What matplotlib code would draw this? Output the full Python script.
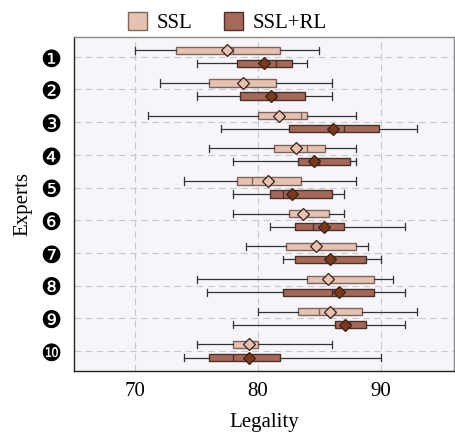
import matplotlib
matplotlib.use("Agg")
import matplotlib.pyplot as plt
from matplotlib.patches import Patch
import numpy as np

plt.rcParams["font.family"] = ["Liberation Serif", "DejaVu Sans"]

experts = ["❶", "❷", "❸", "❹", "❺", "❻", "❼", "❽", "❾", "❿"]
series_names = ["SSL", "SSL+RL"]

# whisker low, q1, median, q3, whisker high, mean
ssl_low = [70.0, 72.0, 71.0, 76.0, 74.0, 78.0, 79.0, 75.0, 80.0, 75.0]
ssl_q1 = [73.3, 76.0, 80.0, 81.3, 78.3, 82.5, 82.3, 84.0, 83.3, 78.0]
ssl_med = [78.0, 78.8, 83.5, 84.0, 79.5, 83.8, 84.7, 85.7, 85.0, 79.3]
ssl_q3 = [81.8, 81.5, 84.0, 85.5, 83.5, 85.8, 88.0, 89.5, 88.5, 80.0]
ssl_high = [85.0, 86.0, 88.0, 88.0, 88.0, 87.0, 89.0, 91.0, 93.0, 86.0]
ssl_mean = [77.5, 78.8, 81.7, 83.1, 80.8, 83.7, 84.7, 85.7, 85.9, 79.3]

rl_low = [75.0, 75.0, 77.0, 78.0, 78.0, 81.0, 82.0, 75.8, 78.0, 74.0]
rl_q1 = [78.3, 78.5, 82.5, 83.3, 81.0, 83.0, 83.0, 82.0, 86.3, 76.0]
rl_med = [81.5, 81.5, 87.0, 85.0, 82.0, 84.5, 85.6, 86.0, 87.5, 78.0]
rl_q3 = [82.8, 83.8, 89.9, 87.5, 86.0, 87.0, 88.8, 89.5, 88.8, 81.8]
rl_high = [84.0, 86.0, 93.0, 88.0, 87.0, 92.0, 90.0, 92.0, 92.0, 90.0]
rl_mean = [80.5, 81.1, 86.1, 84.6, 82.8, 85.4, 85.9, 86.6, 87.1, 79.3]

fill_colors = ["#e6c2b2", "#a5695a"]
edge_colors = ["#7d6560", "#4a3028"]
mean_colors = ["#e6c2b2", "#7a3a1e"]


def make_stats(low, q1, med, q3, high, mean):
    stats = []
    for i in range(len(low)):
        stats.append({"whislo": low[i], "q1": q1[i], "med": med[i], "q3": q3[i],
                      "whishi": high[i], "mean": mean[i], "fliers": []})
    return stats


all_stats = [make_stats(ssl_low, ssl_q1, ssl_med, ssl_q3, ssl_high, ssl_mean),
             make_stats(rl_low, rl_q1, rl_med, rl_q3, rl_high, rl_mean)]

fig = plt.figure(figsize=(4.55, 4.32), dpi=100)
ax = fig.add_axes([0.163, 0.142, 0.835, 0.772])
ax.set_facecolor("#f7f5f9")

base = np.arange(1, len(experts) + 1)
offsets = [-0.2, 0.2]
for k in range(2):
    ax.bxp(all_stats[k], positions=base + offsets[k], orientation="horizontal",
           widths=0.22, patch_artist=True, showmeans=True, capwidths=0.22,
           boxprops=dict(facecolor=fill_colors[k], edgecolor=edge_colors[k], linewidth=1.0),
           medianprops=dict(color=edge_colors[k], linewidth=1.0),
           whiskerprops=dict(color="#333333", linewidth=0.9),
           capprops=dict(color="#333333", linewidth=0.9),
           meanprops=dict(marker="D", markerfacecolor=mean_colors[k],
                          markeredgecolor="#3a2018", markersize=6.5, markeredgewidth=0.9),
           zorder=3)

ax.set_xlim(65, 96)
ax.set_ylim(10.6, 0.4)
ax.set_xticks([70, 80, 90])
ax.set_yticks(base)
ax.set_yticklabels(experts, fontsize=17, family=["DejaVu Sans"])
ax.tick_params(axis="x", labelsize=15, length=0, pad=8)
ax.tick_params(axis="y", length=0, pad=9)
ax.grid(True, linestyle=(0, (6, 4)), color="#c8c8c8", linewidth=0.8, zorder=0)
ax.set_axisbelow(True)

for side in ["left", "bottom"]:
    ax.spines[side].set_color("#222222")
    ax.spines[side].set_linewidth(1.0)
for side in ["top", "right"]:
    ax.spines[side].set_color("#888888")
    ax.spines[side].set_linewidth(1.0)

ax.set_xlabel("Legality", fontsize=15, labelpad=9)
ax.set_ylabel("Experts", fontsize=15, labelpad=6)

handles = [Patch(facecolor=fill_colors[k], edgecolor=edge_colors[k], label=series_names[k])
           for k in range(2)]
fig.legend(handles=handles, loc="upper center", bbox_to_anchor=(0.5, 1.015), ncol=2,
           frameon=False, fontsize=15, handlelength=0.9, handleheight=0.9,
           columnspacing=1.5, handletextpad=0.5)

fig.savefig("out.png", dpi=100)
